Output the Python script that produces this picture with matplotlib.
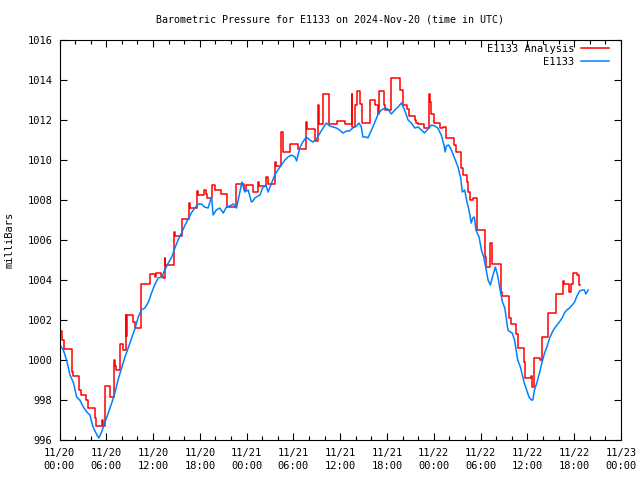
import matplotlib
matplotlib.use("Agg")
import matplotlib.pyplot as plt
import numpy as np

title = "Barometric Pressure for E1133 on 2024-Nov-20 (time in UTC)"
ylabel = "milliBars"
tick_labels = ["11/20\n00:00", "11/20\n06:00", "11/20\n12:00", "11/20\n18:00",
               "11/21\n00:00", "11/21\n06:00", "11/21\n12:00", "11/21\n18:00",
               "11/22\n00:00", "11/22\n06:00", "11/22\n12:00", "11/22\n18:00",
               "11/23\n00:00"]

# Station observations (hours since 11/20 00:00 UTC, mb)
obs_hours = [0.0, 0.5, 0.9, 1.35, 1.8, 2.2, 2.6, 3.05, 3.5, 3.9, 4.3, 4.8, 5.05, 5.4,
             5.8, 6.25, 6.7, 7.1, 7.5, 8.0, 8.4, 8.8, 9.25, 9.7, 10.1, 10.5, 10.95,
             11.4, 11.8, 12.2, 12.65, 13.1, 13.5, 13.95, 14.4, 14.8, 15.2, 15.65,
             16.1, 16.5, 16.9, 17.35, 17.8, 18.2, 18.6, 19.05, 19.5, 19.7, 20.1,
             20.55, 21.0, 21.4, 21.85, 22.3, 22.7, 23.0, 23.4, 23.75, 24.2, 24.6,
             24.8, 25.05, 25.7, 26.1, 26.5, 26.75, 27.2, 27.6, 28.0, 28.45, 28.9,
             29.3, 29.75, 30.2, 30.4, 30.8, 31.2, 31.65, 32.1, 32.5, 32.95, 33.4,
             33.8, 34.2, 34.65, 35.1, 35.5, 35.9, 36.35, 36.8, 37.2, 37.6, 38.1,
             38.4, 38.7, 38.9, 39.35, 39.55, 40.0, 40.4, 40.85, 41.3, 41.7, 42.1,
             42.55, 43.0, 43.4, 43.85, 44.25, 44.7, 45.1, 45.55, 46.0, 46.4, 46.8,
             47.25, 47.7, 48.1, 48.5, 48.95, 49.3, 49.45, 49.6, 49.9, 50.25, 50.65,
             51.1, 51.45, 51.65, 51.95, 52.25, 52.5, 52.8, 53.0, 53.2, 53.4, 53.8,
             54.1, 54.4, 54.65, 54.95, 55.25, 55.55, 55.9, 56.2, 56.5, 56.8, 57.1,
             57.3, 57.5, 57.8, 58.05, 58.35, 58.55, 58.75, 59.1, 59.35, 59.6, 59.9,
             60.2, 60.5, 60.7, 60.9, 61.2, 61.55, 61.85, 62.2, 62.5, 62.85, 63.2,
             63.5, 63.8, 64.1, 64.45, 64.75, 65.05, 65.4, 65.75, 66.05, 66.35, 66.7,
             67.0, 67.3, 67.5, 67.8]
obs_values = [1000.75, 1000.5, 1000.0, 999.25, 998.85, 998.15, 998.0, 997.65, 997.4,
              997.25, 996.65, 996.25, 996.1, 996.4, 996.85, 997.35, 997.85, 998.35,
              999.0, 999.65, 1000.15, 1000.6, 1001.1, 1001.6, 1002.15, 1002.5, 1002.6,
              1002.9, 1003.35, 1003.75, 1004.1, 1004.15, 1004.5, 1004.85, 1005.15,
              1005.6, 1006.0, 1006.35, 1006.75, 1007.05, 1007.35, 1007.6, 1007.8,
              1007.8, 1007.65, 1007.6, 1008.15, 1007.25, 1007.5, 1007.6, 1007.35,
              1007.65, 1007.7, 1007.8, 1007.6, 1008.15, 1008.9, 1008.4, 1008.5,
              1007.9, 1007.95, 1008.1, 1008.25, 1008.65, 1008.7, 1008.4, 1008.85,
              1009.25, 1009.5, 1009.75, 1010.0, 1010.15, 1010.25, 1010.15, 1009.95,
              1010.6, 1010.9, 1011.15, 1011.0, 1010.9, 1011.05, 1011.35, 1011.6,
              1011.85, 1011.7, 1011.65, 1011.6, 1011.5, 1011.35, 1011.45, 1011.45,
              1011.6, 1011.7, 1011.85, 1011.65, 1011.15, 1011.15, 1011.1, 1011.5,
              1011.85, 1012.3, 1012.5, 1012.6, 1012.55, 1012.3, 1012.5, 1012.65,
              1012.85, 1012.5, 1012.0, 1011.85, 1011.6, 1011.65, 1011.5, 1011.35,
              1011.55, 1011.75, 1011.7, 1011.6, 1011.25, 1010.75, 1010.4, 1010.7,
              1010.75, 1010.5, 1010.1, 1009.65, 1009.1, 1008.4, 1008.5, 1007.9,
              1007.5, 1006.85, 1007.1, 1007.15, 1006.5, 1006.15, 1005.5, 1005.15,
              1004.65, 1004.0, 1003.75, 1004.2, 1004.65, 1004.2, 1003.5, 1002.9,
              1002.6, 1002.05, 1001.5, 1001.4, 1001.35, 1001.0, 1000.5, 1000.0,
              999.65, 999.25, 998.85, 998.5, 998.15, 998.0, 998.0, 998.5, 998.85,
              999.35, 999.85, 1000.35, 1000.65, 1001.1, 1001.4, 1001.6, 1001.75,
              1001.9, 1002.1, 1002.35, 1002.5, 1002.6, 1002.75, 1002.9, 1003.2,
              1003.45, 1003.5, 1003.5, 1003.3, 1003.5]

# Analysis (step changes: start hour, value)
ana_hours = [0.0, 0.36, 0.6, 1.55, 1.77, 2.55, 2.75, 3.4, 3.7, 4.55, 4.7, 5.5, 5.6,
             5.85, 6.5, 7.0, 7.15, 7.3, 7.75, 8.2, 8.5, 8.55, 8.6, 9.45, 9.7, 10.5,
             11.6, 12.2, 12.4, 13.0, 13.3, 13.5, 13.55, 14.7, 14.8, 15.65, 16.6,
             16.75, 17.65, 17.8, 18.5, 18.8, 18.9, 19.5, 19.9, 20.75, 21.5, 22.6,
             23.6, 23.95, 24.4, 24.8, 25.4, 25.6, 26.5, 26.7, 27.6, 27.75, 28.45,
             28.6, 29.6, 30.6, 31.6, 31.75, 32.7, 33.1, 33.3, 33.8, 34.6, 35.6, 36.6,
             37.45, 37.55, 37.9, 38.1, 38.5, 38.8, 39.8, 40.5, 40.8, 41.0, 41.6,
             41.8, 42.55, 43.6, 44.0, 44.6, 44.8, 45.55, 45.75, 46.0, 46.8, 47.4,
             47.5, 47.6, 47.7, 48.0, 48.75, 49.2, 49.6, 50.55, 50.8, 51.5, 51.8,
             52.3, 52.4, 52.6, 53.0, 53.5, 54.5, 54.7, 55.2, 55.4, 55.5, 56.6, 56.7,
             57.6, 57.9, 58.5, 58.75, 59.5, 59.75, 60.5, 60.6, 60.8, 61.55, 61.85,
             62.6, 62.7, 63.7, 64.55, 64.75, 65.3, 65.55, 65.8, 66.35, 66.6, 66.8]
ana_values = [1001.45, 1001.0, 1000.55, 999.4, 999.2, 998.5, 998.25, 998.0, 997.6,
              997.1, 996.7, 997.0, 996.7, 998.7, 998.15, 1000.0, 999.7, 999.5,
              1000.8, 1000.5, 1002.25, 1001.2, 1002.25, 1001.9, 1001.6, 1003.8,
              1004.3, 1004.15, 1004.35, 1004.2, 1004.1, 1005.1, 1004.75, 1006.4,
              1006.2, 1007.05, 1007.85, 1007.6, 1008.45, 1008.25, 1008.5, 1008.3,
              1008.1, 1008.75, 1008.5, 1008.3, 1007.65, 1008.8, 1008.5, 1008.75,
              1008.75, 1008.4, 1008.9, 1008.7, 1009.15, 1008.8, 1009.9, 1009.7,
              1011.4, 1010.4, 1010.8, 1010.55, 1011.9, 1011.55, 1010.95, 1012.75,
              1011.8, 1013.3, 1011.8, 1011.95, 1011.8, 1013.3, 1011.65, 1012.75,
              1013.45, 1012.8, 1011.85, 1013.0, 1012.75, 1012.3, 1013.45, 1012.75,
              1012.5, 1014.1, 1013.5, 1012.75, 1012.55, 1012.2, 1012.0, 1011.85,
              1011.8, 1011.6, 1013.3, 1012.9, 1012.75, 1012.3, 1011.85, 1011.6,
              1011.65, 1011.1, 1010.75, 1010.4, 1009.6, 1009.25, 1008.9, 1008.4,
              1008.0, 1008.1, 1006.5, 1005.15, 1004.65, 1005.85, 1005.3, 1004.8,
              1003.4, 1003.2, 1002.1, 1001.8, 1001.3, 1000.6, 999.9, 999.1, 999.2,
              998.65, 1000.1, 1000.0, 1001.15, 1001.6, 1002.35, 1003.3, 1003.95,
              1003.8, 1003.4, 1003.8, 1004.35, 1004.25, 1003.75, 1003.75]

plt.rcParams['font.family'] = "DejaVu Sans Mono"
fs = 7.5

fig = plt.figure(figsize=(6.4, 4.8), dpi=100)
ax = fig.add_axes([59.5 / 640, 1 - 440 / 480, (621 - 59.5) / 640, 400 / 480])

ax.plot(ana_hours, ana_values, drawstyle='steps-post', color='#ff0000', lw=1.1,
        label='E1133 Analysis')
ax.plot(obs_hours, obs_values, color='#0080ff', lw=1.1, label='E1133')

ax.set_xlim(0, 72)
ax.set_ylim(996, 1016)
ax.set_xticks(np.arange(0, 73, 6))
ax.set_xticklabels(tick_labels, linespacing=1.35)
ax.set_xticks(np.arange(0, 73, 2), minor=True)
ax.set_yticks(np.arange(996, 1017, 2))
ax.tick_params(which='both', direction='in', top=True, right=True, width=0.8,
               labelsize=fs)
ax.tick_params(axis='x', which='major', pad=6)
ax.tick_params(axis='y', which='major', pad=5)
ax.tick_params(which='major', length=5)
ax.tick_params(which='minor', length=3)
for s in ax.spines.values():
    s.set_linewidth(0.8)

fig.text(330 / 640, 1 - 20 / 480, title, ha='center', va='center', fontsize=7.2)
fig.text(10 / 640, 0.5, ylabel, rotation=90, va='center', ha='center', fontsize=fs)

leg = ax.legend(loc='upper right', frameon=False, markerfirst=False, fontsize=fs,
                handlelength=2.7, handletextpad=0.65, borderaxespad=0, borderpad=0,
                labelspacing=0.25,
                bbox_to_anchor=(1 - 12 / 561.5, 1 - 4 / 400))
for t in leg.get_texts():
    t.set_ha('right')

fig.savefig('out.png', dpi=100)
